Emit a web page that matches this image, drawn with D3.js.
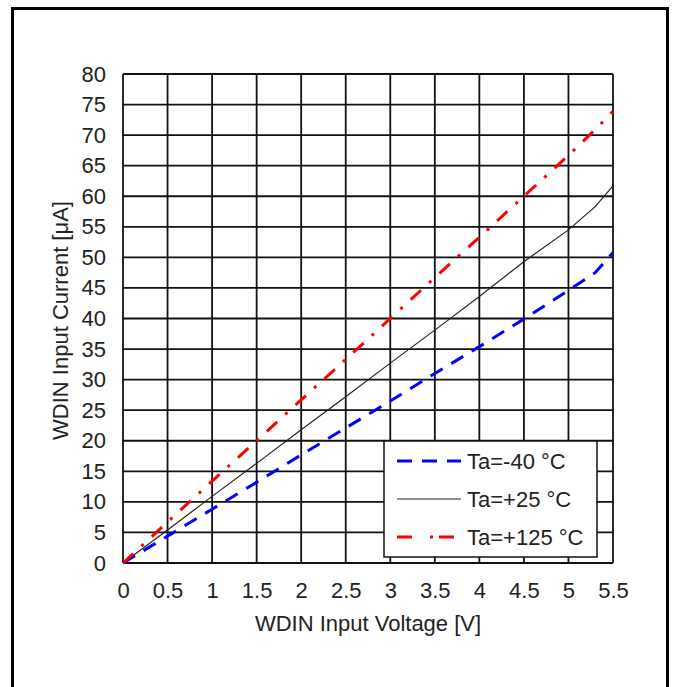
<!DOCTYPE html>
<html>
<head>
<meta charset="utf-8">
<script src="https://cdn.jsdelivr.net/npm/d3@7"></script>
<style>
    body { margin: 0; background: #fff; }
    text { font-family: Arial, "Liberation Sans", sans-serif; fill: #222; }
</style>
</head>
<body>
<div id="chart"></div>
<script>
;(function () {

    var voltage = [0, 0.5, 1, 1.5, 2, 2.5, 3, 3.5, 4, 4.5, 5, 5.3, 5.5];
    var currentM40 = [0, 4.4, 8.8, 13.2, 17.7, 22.1, 26.5, 31.0, 35.4, 39.9, 44.6, 47.5, 50.8];
    var currentP25 = [0, 5.4, 10.9, 16.3, 21.8, 27.2, 32.7, 38.1, 43.6, 49.3, 54.5, 58.3, 61.7];
    var currentP125 = [0, 6.7, 13.4, 20.0, 26.7, 33.3, 40.0, 46.7, 53.3, 60.0, 66.7, 70.9, 73.9];

    var seriesNames = ['Ta=-40 °C', 'Ta=+25 °C', 'Ta=+125 °C'];
    var xTicks = [0, 0.5, 1, 1.5, 2, 2.5, 3, 3.5, 4, 4.5, 5, 5.5];
    var yTicks = d3.range(0, 81, 5);

    var width = 673
        , height = 687
        , fontSize = 22
        , plot = { left: 123, top: 74, right: 613, bottom: 563 };

    var svg = d3.select('#chart').append('svg')
        .attr('width', width)
        .attr('height', height);

    // outer frame
    svg.append('rect')
        .attr('x', 12.5).attr('y', 8.5)
        .attr('width', 655).attr('height', 700)
        .attr('fill', 'none')
        .attr('stroke', '#000')
        .attr('stroke-width', 3);

    var x = d3.scaleLinear().domain([0, 5.5]).range([plot.left, plot.right]);
    var y = d3.scaleLinear().domain([0, 80]).range([plot.bottom, plot.top]);

    var g = svg.append('g');

    // grid
    g.selectAll('.vgrid').data(xTicks).enter().append('line')
        .attr('x1', function(d) { return x(d); })
        .attr('x2', function(d) { return x(d); })
        .attr('y1', y(0)).attr('y2', y(80))
        .attr('stroke', '#111').attr('stroke-width', 1.8);

    g.selectAll('.hgrid').data(yTicks).enter().append('line')
        .attr('y1', function(d) { return y(d); })
        .attr('y2', function(d) { return y(d); })
        .attr('x1', x(0)).attr('x2', x(5.5))
        .attr('stroke', '#111').attr('stroke-width', 1.8);

    // axes (labels only)
    var xAxis = d3.axisBottom(x).tickValues(xTicks).tickSize(0).tickPadding(19)
        .tickFormat(function(d) { return String(d); });
    var yAxis = d3.axisLeft(y).tickValues(yTicks).tickSize(0).tickPadding(17);

    var gx = svg.append('g').attr('transform', 'translate(0,' + y(0) + ')').call(xAxis);
    var gy = svg.append('g').attr('transform', 'translate(' + x(0) + ',0)').call(yAxis);
    [gx, gy].forEach(function(a) {
        a.select('.domain').remove();
        a.selectAll('text')
            .attr('font-size', fontSize)
            .attr('font-family', 'Arial, "Liberation Sans", sans-serif')
            .attr('fill', '#222');
    });

    svg.append('text')
        .attr('x', (x(0) + x(5.5)) / 2)
        .attr('y', 631)
        .attr('text-anchor', 'middle')
        .attr('font-size', fontSize)
        .text('WDIN Input Voltage [V]');

    svg.append('text')
        .attr('transform', 'translate(68,' + ((y(0) + y(80)) / 2 + 2) + ') rotate(-90)')
        .attr('text-anchor', 'middle')
        .attr('font-size', fontSize)
        .text('WDIN Input Current [μA]');

    // curves
    var series = [
        { name: seriesNames[0], values: currentM40, color: '#0000ff', width: 3, dash: '14,10' },
        { name: seriesNames[1], values: currentP25, color: '#222', width: 1.2, dash: null },
        { name: seriesNames[2], values: currentP125, color: '#ff0000', width: 3, dash: '14,11,3,11' }
    ];

    var line = d3.line()
        .x(function(d, i) { return x(voltage[i]); })
        .y(function(d) { return y(d); });

    series.forEach(function(s) {
        svg.append('path')
            .datum(s.values)
            .attr('d', line)
            .attr('fill', 'none')
            .attr('stroke', s.color)
            .attr('stroke-width', s.width)
            .attr('stroke-dasharray', s.dash);
    });

    // legend
    var legend = svg.append('g').attr('transform', 'translate(384,441)');
    legend.append('rect')
        .attr('width', 213).attr('height', 116)
        .attr('fill', '#fff')
        .attr('stroke', '#111').attr('stroke-width', 1.5);

    series.forEach(function(s, i) {
        var ly = 20 + i * 38;
        legend.append('line')
            .attr('x1', 13).attr('x2', 77)
            .attr('y1', ly).attr('y2', ly)
            .attr('stroke', s.color)
            .attr('stroke-width', s.width)
            .attr('stroke-dasharray', s.dash === null ? null : (i === 0 ? '15,10' : '15,18,3,6'));
        legend.append('text')
            .attr('x', 83).attr('y', ly + 8)
            .attr('font-size', fontSize)
            .text(s.name);
    });

}());
</script>
</body>
</html>
